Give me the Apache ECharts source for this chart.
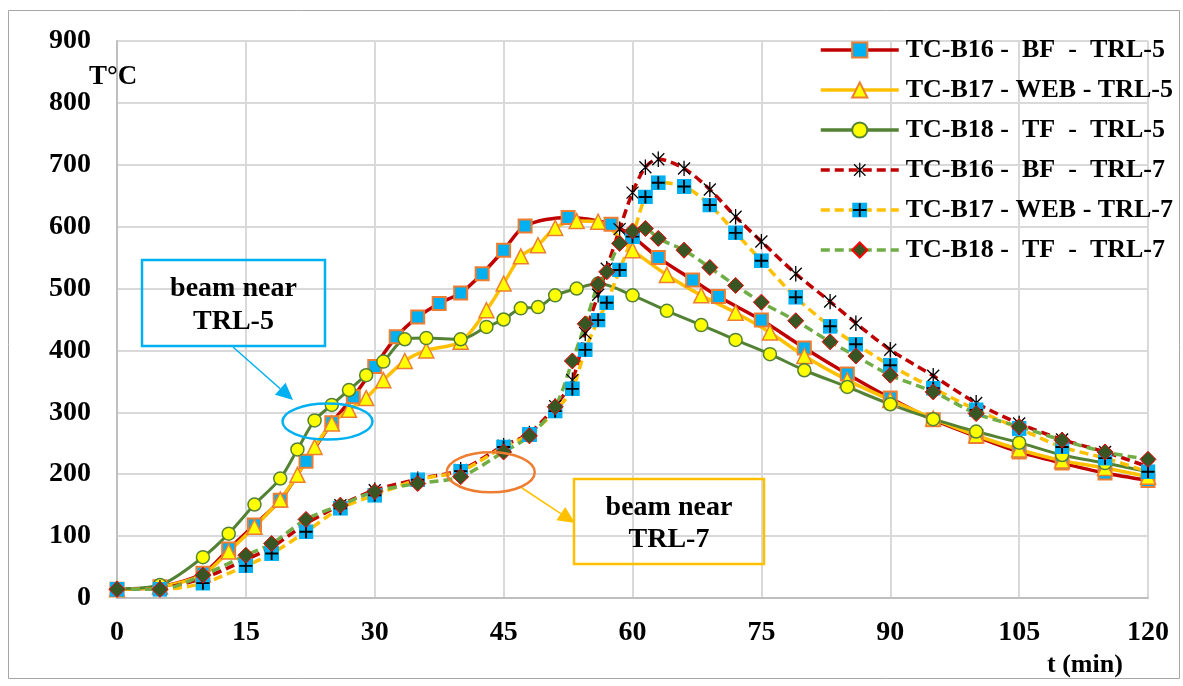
<!DOCTYPE html>
<html>
<head>
<meta charset="utf-8">
<script src="https://cdn.jsdelivr.net/npm/echarts@6/dist/echarts.min.js"></script>
<style>
  html, body { margin: 0; padding: 0; background: #fff; }
  #chart { width: 1183px; height: 686px; }
</style>
</head>
<body>
<div id="chart"></div>
<script>
// Beam thermocouple temperatures (°C) against fire time (min)
const seriesNames = [
  'TC-B16 -  BF  -  TRL-5',
  'TC-B17 - WEB - TRL-5',
  'TC-B18 -  TF  -  TRL-5',
  'TC-B16 -  BF  -  TRL-7',
  'TC-B17 - WEB - TRL-7',
  'TC-B18 -  TF  -  TRL-7'
];

// TRL-5, bottom flange readings
const timeBF5 = [0,5,10,13,16,19,22,25,27.5,30,32.5,35,37.5,40,42.5,45,47.5,52.5,57.5,60,63,67,70,75,80,85,90,95,100,105,110,115,120];
const tempBF5 = [14,18,40,79,118,158,221,283,325,374,422,454,476,493,524,562,601,615,604,584,550,514,487,449,404,362,323,288,261,236,218,202,190];

// TRL-5, web and top flange readings
const timeTRL5 = [0,5,10,13,16,19,21,23,25,27,29,31,33.5,36,40,43,45,47,49,51,53.5,56,60,64,68,72,76,80,85,90,95,100,105,110,115,120];
const tempWEB5 = [14,18,38,75,115,159,199,244,282,304,323,352,383,400,414,465,508,552,570,598,609,608,562,522,489,461,429,391,352,320,290,263,240,222,210,196];
const tempTF5  = [15,21,66,104,151,193,240,287,312,336,360,382,418,420,418,438,450,468,470,489,500,508,489,464,441,417,394,368,341,313,289,269,251,231,218,204];

// TRL-7 readings
const timeTRL7 = [0,5,10,15,18,22,26,30,35,40,45,48,51,53,54.5,56,57,58.5,60,61.5,63,66,69,72,75,79,83,86,90,95,100,105,110,115,120];
const tempBF7  = [14,16,32,62,82,120,150,174,192,207,246,266,310,352,428,490,532,596,655,696,709,694,660,616,576,524,479,444,401,359,315,282,256,236,212];
const tempWEB7 = [14,14,24,52,72,107,145,166,191,205,244,264,302,338,401,449,477,530,584,648,671,665,635,590,545,486,439,410,376,339,304,274,244,226,204];
const tempTF7  = [14,14,37,69,88,127,150,172,185,196,236,262,309,383,443,507,527,573,593,597,581,562,534,505,478,448,414,391,360,333,298,277,255,236,224];

// axis ranges and tick steps
const xMin = 0, xMax = 120, xStep = 15;
const yMin = 0, yMax = 900, yStep = 100;

const FONT = 'Liberation Serif';

function pairs(t, v) { return t.map((x, i) => [x, v[i]]); }
function svgIcon(svg) { return 'image://data:image/svg+xml;charset=utf-8,' + encodeURIComponent(svg); }

const asteriskIcon = svgIcon("<svg xmlns='http://www.w3.org/2000/svg' width='16' height='16' viewBox='0 0 16 16'><path d='M2 2L14 14M14 2L2 14M8 0V16' stroke='#000' stroke-width='1.3' fill='none'/></svg>");
const plusSquareIcon = svgIcon("<svg xmlns='http://www.w3.org/2000/svg' width='16' height='16' viewBox='0 0 16 16'><rect x='0' y='0' width='16' height='16' fill='#00b0f0'/><path d='M8 1V15M1 8H15' stroke='#000' stroke-width='2' fill='none'/></svg>");

function lineSeries(name, data, color, dashed, width, symbol, size, itemStyle) {
  return {
    name, type: 'line', data,
    smooth: 0.3,
    symbol, symbolSize: size,
    lineStyle: { color, width, type: dashed ? [9, 5] : 'solid' },
    itemStyle: Object.assign({ color }, itemStyle || {}),
    emphasis: { disabled: true },
    z: 2
  };
}

const chart = echarts.init(document.getElementById('chart'), null, { renderer: 'canvas' });

const series = [
  lineSeries(seriesNames[0], pairs(timeBF5, tempBF5), '#c00000', false, 3.5, 'rect', 13,
    { color: '#00b0f0', borderColor: '#ed7d31', borderWidth: 2 }),
  lineSeries(seriesNames[1], pairs(timeTRL5, tempWEB5), '#ffc000', false, 3.5, 'triangle', 15,
    { color: '#ffff00', borderColor: '#ed7d31', borderWidth: 1.5 }),
  lineSeries(seriesNames[2], pairs(timeTRL5, tempTF5), '#548235', false, 3, 'circle', 13,
    { color: '#ffff00', borderColor: '#548235', borderWidth: 1.5 }),
  lineSeries(seriesNames[3], pairs(timeTRL7, tempBF7), '#c00000', true, 3.5, asteriskIcon, 16, { color: '#c00000' }),
  lineSeries(seriesNames[4], pairs(timeTRL7, tempWEB7), '#ffc000', true, 3.5, plusSquareIcon, 15, { color: '#ffc000' }),
  lineSeries(seriesNames[5], pairs(timeTRL7, tempTF7), '#70ad47', true, 3.5, 'diamond', 16,
    { color: '#375623', borderColor: '#ff0000', borderWidth: 1 })
];

const option = {
  animation: false,
  backgroundColor: '#ffffff',
  grid: { left: 117, top: 41, right: 35, bottom: 88, containLabel: false },
  xAxis: {
    type: 'value', min: xMin, max: xMax, interval: xStep,
    axisLine: { show: true, lineStyle: { color: '#bfbfbf', width: 2 } },
    axisTick: { show: false },
    splitLine: { show: true, lineStyle: { color: '#d9d9d9', width: 2 } },
    axisLabel: { color: '#000', fontFamily: FONT, fontWeight: 'bold', fontSize: 28, margin: 21 }
  },
  yAxis: {
    type: 'value', min: yMin, max: yMax, interval: yStep,
    axisLine: { show: true, lineStyle: { color: '#bfbfbf', width: 2 } },
    axisTick: { show: false },
    splitLine: { show: true, lineStyle: { color: '#d9d9d9', width: 2 } },
    axisLabel: { color: '#000', fontFamily: FONT, fontWeight: 'bold', fontSize: 28, margin: 26 }
  },
  legend: {
    orient: 'vertical', left: 814, top: 31,
    itemWidth: 78, itemHeight: 19, itemGap: 12,
    data: seriesNames,
    lineStyle: { width: 3.5 },
    textStyle: { color: '#000', fontFamily: FONT, fontWeight: 'bold', fontSize: 26, lineHeight: 28, padding: [0, 0, 0, 2] }
  },
  series
};

chart.setOption(option);

// annotation helpers
function arrow(x1, y1, x2, y2, color, len, half) {
  const dx = x2 - x1, dy = y2 - y1, d = Math.hypot(dx, dy);
  const ux = dx / d, uy = dy / d;
  const bx = x2 - ux * len, by = y2 - uy * len;
  return [
    { type: 'line', shape: { x1, y1, x2: bx, y2: by }, style: { stroke: color, lineWidth: 1.5 }, z: 10 },
    { type: 'polygon', shape: { points: [[x2, y2], [bx - uy * half, by + ux * half], [bx + uy * half, by - ux * half]] },
      style: { fill: color }, z: 10 }
  ];
}
function labelBox(x, y, w, h, color, line1, line2) {
  return [
    { type: 'rect', shape: { x, y, width: w, height: h }, style: { fill: 'none', stroke: color, lineWidth: 2.5 }, z: 10 },
    { type: 'text', x: x + w / 2, y: y + h * 0.34, style: { text: line1, fill: '#000', font: 'bold 28px "' + FONT + '"', align: 'center', verticalAlign: 'middle' }, z: 10 },
    { type: 'text', x: x + w / 2, y: y + h * 0.72, style: { text: line2, fill: '#000', font: 'bold 28px "' + FONT + '"', align: 'center', verticalAlign: 'middle' }, z: 10 }
  ];
}

// ellipses ring the curves where each group is called out
const c5 = chart.convertToPixel({ gridIndex: 0 }, [24.5, 285]);
const c7 = chart.convertToPixel({ gridIndex: 0 }, [43.5, 203]);

const graphic = [
  // outer frame
  { type: 'rect', shape: { x: 8.5, y: 10.5, width: 1171, height: 668 }, style: { fill: 'none', stroke: '#a6a6a6', lineWidth: 1 }, z: 0, silent: true },
  { type: 'text', x: 89, y: 77, style: { text: 'T°C', fill: '#000', font: 'bold 27px "' + FONT + '"', verticalAlign: 'middle' }, z: 10 },
  { type: 'text', x: 1047, y: 665, style: { text: 't (min)', fill: '#000', font: 'bold 26px "' + FONT + '"', verticalAlign: 'middle' }, z: 10 },
  { type: 'ellipse', shape: { cx: c5[0], cy: c5[1], rx: 45, ry: 18 }, style: { fill: 'none', stroke: '#00b0f0', lineWidth: 2.5 }, z: 10 },
  { type: 'ellipse', shape: { cx: c7[0], cy: c7[1], rx: 44, ry: 20 }, style: { fill: 'none', stroke: '#ed7d31', lineWidth: 2.5 }, z: 10 },
  ...arrow(233, 347, 293, 400, '#00b0f0', 17, 8),
  ...arrow(522, 488, 575, 523, '#ffc000', 17, 8),
  ...labelBox(142, 260, 183, 86, '#00b0f0', 'beam near', 'TRL-5'),
  ...labelBox(574, 479, 190, 85, '#ffc000', 'beam near', 'TRL-7')
];

chart.setOption({ graphic });
</script>
</body>
</html>
